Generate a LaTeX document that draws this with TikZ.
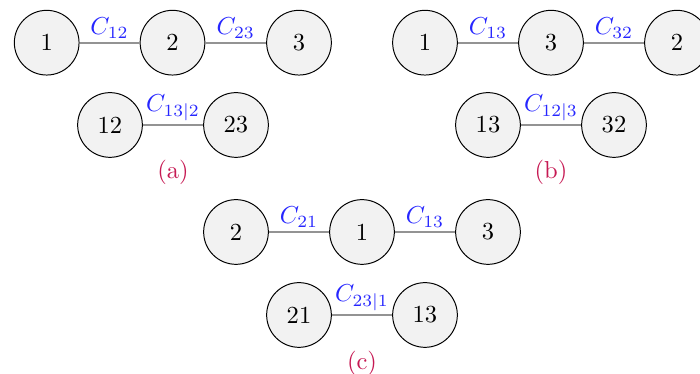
\documentclass[tikz,border=0pt]{standalone}
\begin{document}
\begin{tikzpicture}[x=0.408pt,y=-0.408pt,
  vnode/.style={circle,draw=black,line width=0.4pt,fill=gray!10,minimum size=26.4pt,inner sep=0pt},
  edgeline/.style={draw=gray!85,line width=0.8pt},
  elabel/.style={midway,above,text=blue!85,inner sep=1.5pt},
  caption/.style={text=purple!90}]
\useasboundingbox (0,0) rectangle (700,374);
% (a)
\node[vnode] (a1) at (46.7,42.7) {1};
\node[vnode] (a2) at (172.5,42.7) {2};
\node[vnode] (a3) at (299,42.7) {3};
\node[vnode] (a12) at (110,125) {12};
\node[vnode] (a23) at (236,125) {23};
\draw[edgeline] (a1) -- node[elabel] {$C_{12}$} (a2);
\draw[edgeline] (a2) -- node[elabel] {$C_{23}$} (a3);
\draw[edgeline] (a12) -- node[elabel] {$C_{13|2}$} (a23);
\node[caption] (capa) at (173,172) {(a)};
% (b)
\node[vnode] (b1) at (425,42.7) {1};
\node[vnode] (b3) at (551,42.7) {3};
\node[vnode] (b2) at (677,42.7) {2};
\node[vnode] (b13) at (488,125) {13};
\node[vnode] (b32) at (614,125) {32};
\draw[edgeline] (b1) -- node[elabel] {$C_{13}$} (b3);
\draw[edgeline] (b3) -- node[elabel] {$C_{32}$} (b2);
\draw[edgeline] (b13) -- node[elabel] {$C_{12|3}$} (b32);
\node[caption] (capb) at (551,172) {(b)};
% (c)
\node[vnode] (c2) at (236,232) {2};
\node[vnode] (c1) at (362,232) {1};
\node[vnode] (c3) at (488,232) {3};
\node[vnode] (c21) at (299,315) {21};
\node[vnode] (c13) at (425,315) {13};
\draw[edgeline] (c2) -- node[elabel] {$C_{21}$} (c1);
\draw[edgeline] (c1) -- node[elabel] {$C_{13}$} (c3);
\draw[edgeline] (c21) -- node[elabel] {$C_{23|1}$} (c13);
\node[caption] (capc) at (362,363) {(c)};
\end{tikzpicture}
\end{document}
